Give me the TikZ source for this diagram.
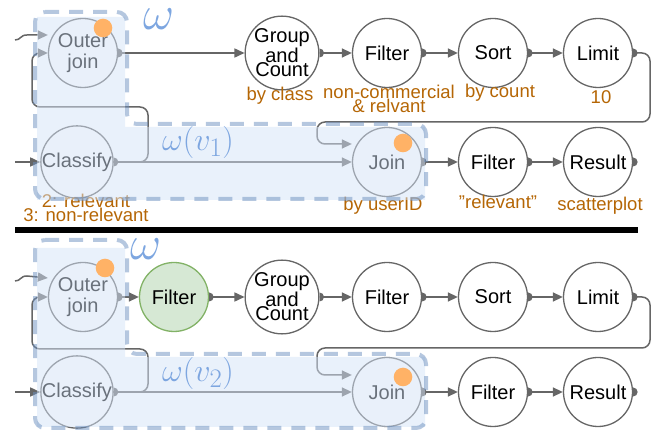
\documentclass[tikz,border=0pt]{standalone}
\usepackage{fontspec}
\setmainfont{Liberation Sans}
\usetikzlibrary{arrows.meta}
\definecolor{linegray}{rgb}{0.40, 0.40, 0.40}
\definecolor{rustbrown}{rgb}{0.71, 0.40, 0.02}
\definecolor{omegablue}{rgb}{0.49, 0.65, 0.88}
\definecolor{regionfill}{rgb}{0.83, 0.89, 0.97}
\definecolor{regionline}{rgb}{0.42, 0.56, 0.75}
\definecolor{dotorange}{rgb}{1.0, 0.70, 0.40}
\definecolor{filtergreen}{rgb}{0.84, 0.91, 0.83}
\definecolor{filteredge}{rgb}{0.51, 0.70, 0.40}
\newcommand{\outport}[1]{\fill[linegray] (#1.east) ++(0,-4.5) arc[start angle=-90,end angle=90,radius=4.5] -- cycle;}

\begin{document}
\begin{tikzpicture}[x=1pt,y=-1pt,
  op/.style={circle,draw=linegray,line width=1.3pt,fill=white,minimum size=69pt,inner sep=0pt,
    font=\fontsize{20}{14.5}\selectfont,align=center},
  lbl/.style={text=rustbrown,font=\fontsize{18.5}{14}\selectfont,align=center,inner sep=0pt},
  flow/.style={draw=linegray,line width=1.5pt,-{Triangle[length=10pt,width=9pt]}},
  region/.style={fill=regionfill,fill opacity=.5},
  rim/.style={draw=regionline,draw opacity=.5,line width=4pt,dash pattern=on 14pt off 10pt,rounded corners=10pt},
  spot/.style={fill=dotorange},
  omega/.style={text=omegablue,inner sep=0pt}]
\useasboundingbox (0,0) rectangle (657,435);

% upper plan
\node[op] (oja) at (83,53) {Outer\\[6pt]join};
\node[op] (gca) at (282,53) {Group\\and\\Count};
\node[op] (fla) at (387,53) {Filter};
\node[op] (sra) at (493,53) {Sort};
\node[op] (lia) at (598,53) {Limit};
\node[op] (cla) at (77,162) {Classify};
\node[op] (joa) at (387,162) {Join};
\node[op] (fra) at (493,162) {Filter};
\node[op] (rea) at (598,162) {Result};
\foreach \n in {oja,gca,fla,sra,lia,cla,joa,fra,rea} \outport{\n};

\coordinate (ina) at (15,40);
\coordinate (ica) at (15,162);
\draw[flow] (ina) .. controls (21,40) and (20,35) .. (27,35) -- ([yshift=18pt]oja.west);
\draw[flow] (ica) -- (cla.west);
\draw[flow] (oja.east) -- (gca.west);
\draw[flow] (gca.east) -- (fla.west);
\draw[flow] (fla.east) -- (sra.west);
\draw[flow] (sra.east) -- (lia.west);
\draw[flow] (joa.east) -- (fra.west);
\draw[flow] (fra.east) -- (rea.west);
\draw[flow] (cla.east) -- (joa.west);
\draw[flow,rounded corners=8pt] (cla.east) -- (148,162) -- (148,107) -- (32,107) -- (32,53) -- (oja.west);
\draw[flow,rounded corners=8pt] (lia.east) -- (650,53) -- (650,122) -- (317,122) -- (317,144) -- ([yshift=18pt]joa.west);

\node[lbl] (gcla) at (280,96) {by class};
\node[lbl] (flla) at (389,99) {non-commercial\\\& relvant};
\node[lbl] (srla) at (500,93) {by count};
\node[lbl] (lila) at (601,97) {10};
\node[lbl] (clla) at (86,208) {2: relevant\\3: non-relevant};
\node[lbl] (jola) at (383,206) {by userID};
\node[lbl] (frla) at (498,202) {"relevant"};
\node[lbl] (rela) at (600,206) {scatterplot};

\fill[region] (37,17) -- (125,17) -- (125,127) -- (425,127) -- (425,200) -- (37,200) -- cycle;
\draw[rim] (35,12) -- (127,12) -- (127,124) -- (426,124) -- (426,199) -- (35,199) -- cycle;
\fill[spot] (103,28) circle (9.3);
\fill[spot] (403,143) circle (9.3);
\node[omega] (wa) at (159,19) {\scalebox{1.93}{\Huge$\omega$}};
\node[omega] (wva) at (198,142) {\scalebox{1.29}{\Huge$\omega(v_1)$}};

\fill[black] (15,227) rectangle (638,233);

% lower plan, filter pushed down
\node[op] (ojb) at (83,297) {Outer\\[6pt]join};
\node[op,draw=filteredge,fill=filtergreen] (fgb) at (174,297) {Filter};
\node[op] (gcb) at (282,297) {Group\\and\\Count};
\node[op] (flb) at (387,297) {Filter};
\node[op] (srb) at (493,297) {Sort};
\node[op] (lib) at (598,297) {Limit};
\node[op] (clb) at (77,392) {Classify};
\node[op] (job) at (387,392) {Join};
\node[op] (frb) at (493,392) {Filter};
\node[op] (reb) at (598,392) {Result};
\foreach \n in {ojb,fgb,gcb,flb,srb,lib,clb,job,frb,reb} \outport{\n};

\coordinate (inb) at (15,281);
\coordinate (icb) at (15,392);
\draw[flow] (inb) .. controls (21,281) and (20,276) .. (27,276) -- ([yshift=19pt]ojb.west);
\draw[flow] (icb) -- (clb.west);
\draw[flow] (ojb.east) -- (fgb.west);
\draw[flow] (fgb.east) -- (gcb.west);
\draw[flow] (gcb.east) -- (flb.west);
\draw[flow] (flb.east) -- (srb.west);
\draw[flow] (srb.east) -- (lib.west);
\draw[flow] (job.east) -- (frb.west);
\draw[flow] (frb.east) -- (reb.west);
\draw[flow] (clb.east) -- (job.west);
\draw[flow,rounded corners=8pt] (clb.east) -- (148,392) -- (148,349) -- (32,349) -- (32,297) -- (ojb.west);
\draw[flow,rounded corners=8pt] (lib.east) -- (650,297) -- (650,348) -- (317,348) -- (317,375) -- ([yshift=17pt]job.west);

\fill[region] (37,248) -- (125,248) -- (125,357) -- (425,357) -- (425,427) -- (37,427) -- cycle;
\draw[rim] (35,240) -- (127,240) -- (127,354) -- (426,354) -- (426,428) -- (35,428) -- cycle;
\fill[spot] (105,268) circle (9.3);
\fill[spot] (403,377) circle (9.3);
\node[omega] (wb) at (146,249) {\scalebox{1.93}{\Huge$\omega$}};
\node[omega] (wvb) at (198,373) {\scalebox{1.29}{\Huge$\omega(v_2)$}};
\end{tikzpicture}
\end{document}
